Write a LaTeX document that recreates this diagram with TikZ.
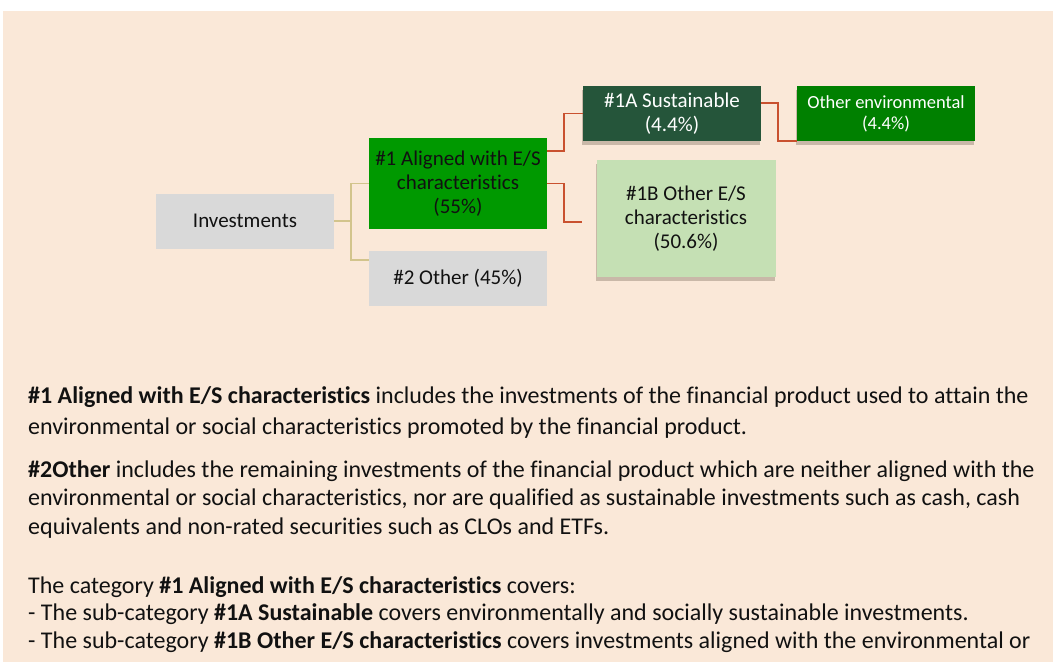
\documentclass[tikz,border=0pt]{standalone}
\usepackage{fontspec}
\setmainfont{Carlito}[Ligatures=CommonOff]
\usetikzlibrary{positioning,calc,shadows}
\definecolor{pagebg}{HTML}{FAE8D8}
\definecolor{boxgrey}{HTML}{D9D9D9}
\definecolor{alignedgreen}{HTML}{009900}
\definecolor{sustgreen}{HTML}{25553A}
\definecolor{envgreen}{HTML}{008000}
\definecolor{otheresgreen}{HTML}{C5E0B4}
\definecolor{trunkcol}{HTML}{D2C48C}
\definecolor{branchcol}{HTML}{C9512F}
\definecolor{shadowbrown}{HTML}{C4B3A3}
\definecolor{inkcol}{HTML}{111111}
\tikzset{
  box/.style={rectangle, minimum width=178pt, minimum height=55pt,
              inner sep=0pt, align=center, text=inkcol,
              font=\fontsize{21}{24}\selectfont},
  greybox/.style={box, fill=boxgrey},
  haze/.style={drop shadow={shadow xshift=-1pt, shadow yshift=-4pt,
              fill=shadowbrown, opacity=0.9}},
  trunk/.style={draw=trunkcol, line width=1.8pt},
  branch/.style={draw=branchcol, line width=1.8pt},
  bodyline/.style={anchor=base west, inner sep=0pt, text=inkcol,
              font=\fontsize{24}{29}\selectfont}
}
\begin{document}
\begin{tikzpicture}[x=1pt, y=-1pt]
  \useasboundingbox (0,0) rectangle (1053,662);
  \fill[pagebg] (3,11) rectangle (1053,662);
  % tree boxes
  \node[greybox] (inv) at (245,221) {Investments};
  \node[box, fill=alignedgreen, minimum height=91pt] (al) at (458,183.5)
       {\#1 Aligned with E/S\\characteristics\\(55\%)};
  \node[greybox] (oth) at (458,278.5) {\#2 Other (45\%)};
  \node[box, haze, fill=sustgreen, text=white] (sus) at (672,113.5)
       {\#1A Sustainable\\(4.4\%)};
  \node[box, haze, fill=envgreen, text=white,
        font=\fontsize{18.5}{21}\selectfont] (env) at (886,113.5)
       {Other environmental\\(4.4\%)};
  \node[box, haze, fill=otheresgreen, minimum width=179pt,
        minimum height=117pt] (oes) at (686,218.5)
       {\#1B Other E/S\\characteristics\\(50.6\%)};
  \coordinate (othin) at ($(oth.north west)+(0,9)$);
  \coordinate (oesin) at ($(oes.west)+(-14,3.5)$);
  % connectors
  \draw[trunk] (inv.east) -- ++(17,0) |- (al.west);
  \draw[trunk] (inv.east) -- ++(17,0) |- (othin);
  \draw[branch] ($(al.north east)+(0,13)$) -- ++(17,0) |- (sus.west);
  \draw[branch] (al.east) -- ++(17,0) |- (oesin);
  \draw[branch] ($(sus.east)+(0,-10.5)$) -- ++(17,0) |- (env.south west);
  % explanation text
  \node[bodyline] (t1) at (28,403) {\textbf{\#1 Aligned with E/S characteristics} includes the investments of the financial product used to attain the};
  \node[bodyline] (t2) at (28,434) {environmental or social characteristics promoted by the financial product.};
  \node[bodyline] (t3) at (28,477) {\textbf{\#2Other} includes the remaining investments of the financial product which are neither aligned with the};
  \node[bodyline] (t4) at (28,505) {environmental or social characteristics, nor are qualified as sustainable investments such as cash, cash};
  \node[bodyline] (t5) at (28,534) {equivalents and non-rated securities such as CLOs and ETFs.};
  \node[bodyline] (t6) at (28,593) {The category \textbf{\#1 Aligned with E/S characteristics} covers:};
  \node[bodyline] (t7) at (28,620) {- The sub-category \textbf{\#1A Sustainable} covers environmentally and socially sustainable investments.};
  \node[bodyline] (t8) at (28,648) {- The sub-category \textbf{\#1B Other E/S characteristics} covers investments aligned with the environmental or};
\end{tikzpicture}
\end{document}
